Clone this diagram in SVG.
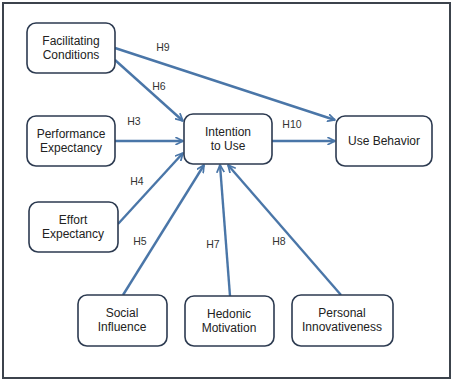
<svg xmlns="http://www.w3.org/2000/svg" width="453" height="381" viewBox="0 0 453 381">
<defs>
<marker id="arr" viewBox="0 0 10 10" refX="9" refY="5" markerWidth="3.6" markerHeight="3.6" orient="auto" markerUnits="strokeWidth">
<path d="M1,1 L9,5 L1,9" fill="none" stroke="#4a76a8" stroke-width="2" stroke-linecap="round" stroke-linejoin="round"/>
</marker>
</defs>
<style>
.node rect{fill:#fff;stroke:#2c3a50;stroke-width:1.6}
.node text{font-family:"Liberation Sans",Arial,sans-serif;font-size:12px;fill:#222;text-anchor:middle}
.lbl{font-family:"Liberation Sans",Arial,sans-serif;font-size:10.5px;fill:#333;text-anchor:middle}
#connectors line{stroke:#4a76a8;stroke-width:2.4;marker-end:url(#arr)}
</style>
<rect x="0" y="0" width="453" height="381" fill="#fff"/>
<rect x="3" y="3" width="447" height="375" fill="#fff" stroke="#3c434c" stroke-width="2"/>
<g id="connectors">
<line x1="115" y1="48" x2="335" y2="120"/>
<line x1="115" y1="60" x2="183" y2="121"/>
<line x1="115" y1="141" x2="183" y2="141"/>
<line x1="118" y1="224" x2="183" y2="153"/>
<line x1="123" y1="295" x2="204" y2="165"/>
<line x1="230" y1="296" x2="220" y2="165"/>
<line x1="341" y1="295" x2="228" y2="165"/>
<line x1="272" y1="141" x2="335" y2="141"/>
</g>
<g id="labels">
<text class="lbl" x="163" y="51">H9</text>
<text class="lbl" x="159" y="90">H6</text>
<text class="lbl" x="134" y="125">H3</text>
<text class="lbl" x="137" y="185">H4</text>
<text class="lbl" x="140" y="245">H5</text>
<text class="lbl" x="213" y="248">H7</text>
<text class="lbl" x="279" y="245">H8</text>
<text class="lbl" x="292" y="128">H10</text>
</g>
<g id="fc" class="node"><rect x="27" y="23" width="88" height="50" rx="9"/><text x="71" y="45">Facilitating</text><text x="71" y="59">Conditions</text></g>
<g id="pe" class="node"><rect x="27" y="116" width="88" height="50" rx="9"/><text x="71" y="138">Performance</text><text x="71" y="152">Expectancy</text></g>
<g id="itu" class="node"><rect x="184" y="114" width="88" height="50" rx="9"/><text x="228" y="136">Intention</text><text x="228" y="150">to Use</text></g>
<g id="ub" class="node"><rect x="336" y="116" width="96" height="50" rx="9"/><text x="384" y="145">Use Behavior</text></g>
<g id="ee" class="node"><rect x="29" y="202" width="89" height="50" rx="9"/><text x="73" y="224">Effort</text><text x="73" y="238">Expectancy</text></g>
<g id="si" class="node"><rect x="78" y="295" width="89" height="51" rx="9"/><text x="122" y="317">Social</text><text x="122" y="331">Influence</text></g>
<g id="hm" class="node"><rect x="185" y="296" width="89" height="50" rx="9"/><text x="229" y="318">Hedonic</text><text x="229" y="332">Motivation</text></g>
<g id="pi" class="node"><rect x="292" y="295" width="101" height="51" rx="9"/><text x="342" y="317">Personal</text><text x="342" y="331">Innovativeness</text></g>
</svg>
